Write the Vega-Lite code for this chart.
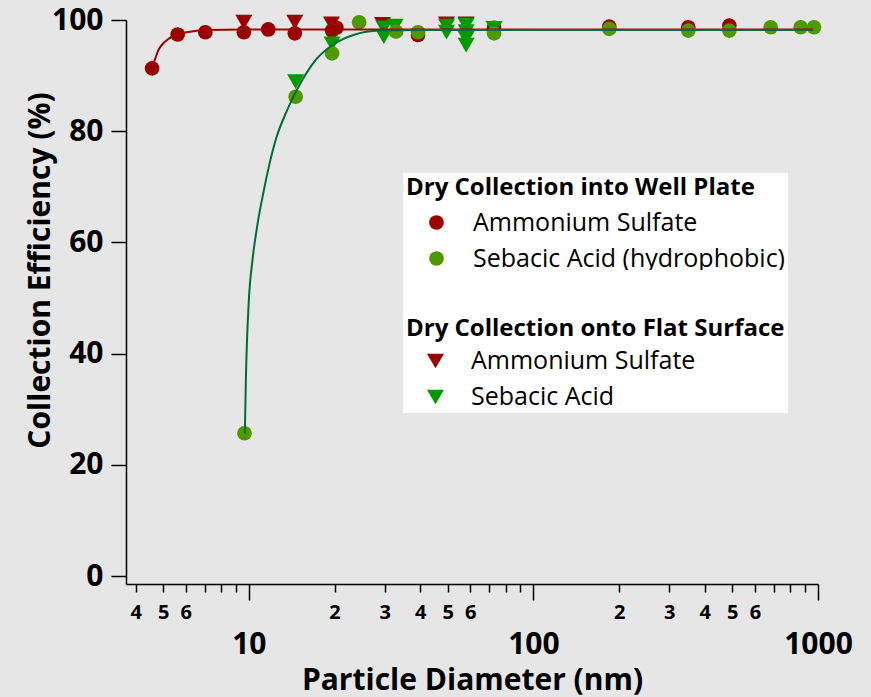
{
  "$schema": "https://vega.github.io/schema/vega-lite/v6.json",
  "width": 692,
  "height": 564,
  "autosize": {"type": "none"},
  "padding": {"left": 126, "top": 20, "right": 53, "bottom": 113},
  "background": "#e6e6e6",
  "config": {
    "view": {"stroke": null},
    "font": "Open Sans",
    "axis": {"grid": false, "domainColor": "#000000", "tickColor": "#000000", "labelColor": "#000000", "titleColor": "#000000", "domainWidth": 1.5, "tickWidth": 1.5, "labelFont": "Open Sans", "titleFont": "Open Sans"}
  },
  "datasets": {
    "pts": [
      {"m": "W", "c": "Ammonium Sulfate", "d": 4.57, "ce": 91.3},
      {"m": "W", "c": "Ammonium Sulfate", "d": 5.62, "ce": 97.4},
      {"m": "W", "c": "Ammonium Sulfate", "d": 7.03, "ce": 97.8},
      {"m": "W", "c": "Ammonium Sulfate", "d": 9.6, "ce": 97.8},
      {"m": "W", "c": "Ammonium Sulfate", "d": 11.7, "ce": 98.3},
      {"m": "W", "c": "Ammonium Sulfate", "d": 14.5, "ce": 97.6},
      {"m": "W", "c": "Ammonium Sulfate", "d": 19.6, "ce": 98.1},
      {"m": "W", "c": "Ammonium Sulfate", "d": 20.3, "ce": 98.6},
      {"m": "W", "c": "Ammonium Sulfate", "d": 39.3, "ce": 97.3},
      {"m": "W", "c": "Ammonium Sulfate", "d": 72.7, "ce": 98.6},
      {"m": "W", "c": "Ammonium Sulfate", "d": 184.7, "ce": 98.8},
      {"m": "W", "c": "Ammonium Sulfate", "d": 350, "ce": 98.7},
      {"m": "W", "c": "Ammonium Sulfate", "d": 488, "ce": 99.0},
      {"m": "F", "c": "Ammonium Sulfate", "d": 9.6, "ce": 99.6},
      {"m": "F", "c": "Ammonium Sulfate", "d": 14.5, "ce": 99.6},
      {"m": "F", "c": "Ammonium Sulfate", "d": 19.5, "ce": 99.3},
      {"m": "F", "c": "Ammonium Sulfate", "d": 29.5, "ce": 99.2},
      {"m": "F", "c": "Ammonium Sulfate", "d": 49.5, "ce": 99.3},
      {"m": "F", "c": "Ammonium Sulfate", "d": 58, "ce": 99.3},
      {"m": "F", "c": "Sebacic Acid", "d": 14.6, "ce": 88.9},
      {"m": "F", "c": "Sebacic Acid", "d": 19.6, "ce": 95.7},
      {"m": "F", "c": "Sebacic Acid", "d": 29.8, "ce": 98.6},
      {"m": "F", "c": "Sebacic Acid", "d": 29.8, "ce": 97.0},
      {"m": "F", "c": "Sebacic Acid", "d": 32.6, "ce": 98.9},
      {"m": "F", "c": "Sebacic Acid", "d": 49.5, "ce": 98.9},
      {"m": "F", "c": "Sebacic Acid", "d": 49.5, "ce": 97.8},
      {"m": "F", "c": "Sebacic Acid", "d": 58, "ce": 99.1},
      {"m": "F", "c": "Sebacic Acid", "d": 58, "ce": 97.9},
      {"m": "F", "c": "Sebacic Acid", "d": 58, "ce": 96.7},
      {"m": "F", "c": "Sebacic Acid", "d": 58, "ce": 95.5},
      {"m": "F", "c": "Sebacic Acid", "d": 72.7, "ce": 98.5},
      {"m": "W", "c": "Sebacic Acid (hydrophobic)", "d": 9.65, "ce": 25.7},
      {"m": "W", "c": "Sebacic Acid (hydrophobic)", "d": 14.6, "ce": 86.2},
      {"m": "W", "c": "Sebacic Acid (hydrophobic)", "d": 19.6, "ce": 94.0},
      {"m": "W", "c": "Sebacic Acid (hydrophobic)", "d": 24.4, "ce": 99.6},
      {"m": "W", "c": "Sebacic Acid (hydrophobic)", "d": 32.9, "ce": 97.9},
      {"m": "W", "c": "Sebacic Acid (hydrophobic)", "d": 39.3, "ce": 97.8},
      {"m": "W", "c": "Sebacic Acid (hydrophobic)", "d": 72.7, "ce": 97.6},
      {"m": "W", "c": "Sebacic Acid (hydrophobic)", "d": 184.7, "ce": 98.4},
      {"m": "W", "c": "Sebacic Acid (hydrophobic)", "d": 350, "ce": 98.1},
      {"m": "W", "c": "Sebacic Acid (hydrophobic)", "d": 488, "ce": 98.1},
      {"m": "W", "c": "Sebacic Acid (hydrophobic)", "d": 682, "ce": 98.7},
      {"m": "W", "c": "Sebacic Acid (hydrophobic)", "d": 869, "ce": 98.7},
      {"m": "W", "c": "Sebacic Acid (hydrophobic)", "d": 968, "ce": 98.7}
    ],
    "curves": [
      {"s": "AS", "d": 4.57, "ce": 91.3},
      {"s": "AS", "d": 4.67, "ce": 92.8},
      {"s": "AS", "d": 4.8, "ce": 94.5},
      {"s": "AS", "d": 5.0, "ce": 95.8},
      {"s": "AS", "d": 5.25, "ce": 96.7},
      {"s": "AS", "d": 5.49, "ce": 97.3},
      {"s": "AS", "d": 6.04, "ce": 97.8},
      {"s": "AS", "d": 7.1, "ce": 98.2},
      {"s": "AS", "d": 9.55, "ce": 98.3},
      {"s": "AS", "d": 960, "ce": 98.3},
      {"s": "SA", "d": 9.68, "ce": 25.7},
      {"s": "SA", "d": 9.76, "ce": 35.3},
      {"s": "SA", "d": 10.0, "ce": 49.7},
      {"s": "SA", "d": 10.3, "ce": 56.9},
      {"s": "SA", "d": 10.7, "ce": 63.0},
      {"s": "SA", "d": 11.23, "ce": 68.8},
      {"s": "SA", "d": 11.8, "ce": 74.0},
      {"s": "SA", "d": 12.52, "ce": 79.0},
      {"s": "SA", "d": 13.5, "ce": 83.3},
      {"s": "SA", "d": 14.4, "ce": 86.4},
      {"s": "SA", "d": 15.95, "ce": 90.5},
      {"s": "SA", "d": 17.3, "ce": 93.0},
      {"s": "SA", "d": 19.8, "ce": 95.6},
      {"s": "SA", "d": 23.3, "ce": 97.3},
      {"s": "SA", "d": 28.9, "ce": 98.1},
      {"s": "SA", "d": 40, "ce": 98.2},
      {"s": "SA", "d": 960, "ce": 98.2}
    ]
  },
  "encoding": {
    "x": {
      "field": "d", "type": "quantitative",
      "scale": {"type": "log", "domain": [3.7, 1000], "nice": false},
      "axis": {
        "title": "Particle Diameter (nm)",
        "values": [4, 5, 6, 7, 8, 9, 10, 20, 30, 40, 50, 60, 70, 80, 90, 100, 200, 300, 400, 500, 600, 700, 800, 900, 1000],
        "format": "d",
        "labelExpr": "indexof([10,100,1000], datum.value) >= 0 ? datum.label : (indexof([4,5,6,20,30,40,50,60,200,300,400,500,600], datum.value) >= 0 ? slice(datum.label,0,1) : '')",
        "labelFontSize": {"condition": {"test": "indexof([10,100,1000], datum.value) >= 0", "value": 30}, "value": 20},
        "labelFontWeight": "bold",
        "tickSize": {"condition": {"test": "indexof([10,100,1000], datum.value) >= 0", "value": 16}, "value": 8},
        "labelPadding": {"condition": {"test": "indexof([10,100,1000], datum.value) >= 0", "value": 29}, "value": 10},
        "labelOverlap": false,
        "labelFlush": false,
        "titleFontSize": 30,
        "titleFontWeight": "bold",
        "titleY": 96,
        "titleBaseline": "middle"
      }
    },
    "y": {
      "field": "ce", "type": "quantitative",
      "scale": {"domain": [-1.4, 100], "nice": false, "zero": false},
      "axis": {
        "title": "Collection Efficiency (%)",
        "values": [0, 20, 40, 60, 80, 100],
        "labelFontSize": 30,
        "labelFontWeight": "bold",
        "tickSize": 15,
        "labelPadding": 8,
        "titleFontSize": 30,
        "titleFontWeight": "bold",
        "titleX": -86,
        "titleY": 250,
        "titleBaseline": "middle"
      }
    }
  },
  "layer": [
    {
      "data": {"name": "pts"},
      "transform": [{"filter": "datum.m == 'W' && datum.c == 'Ammonium Sulfate'"}],
      "mark": {"type": "point", "shape": "circle", "filled": true, "size": 215, "opacity": 1},
      "encoding": {
        "color": {
          "field": "c", "type": "nominal",
          "scale": {"domain": ["Ammonium Sulfate", "Sebacic Acid (hydrophobic)"], "range": ["#990000", "#4d9900"]},
          "legend": {
            "title": "Dry Collection into Well Plate",
            "orient": "none", "legendX": 277, "legendY": 153,
            "fillColor": "#ffffff", "padding": 3,
            "titleFont": "Open Sans", "titleFontSize": 24, "titleFontWeight": "bold", "titleColor": "#000000", "titlePadding": 10, "titleLimit": 600,
            "labelFont": "Open Sans", "labelFontSize": 25, "labelColor": "#000000", "labelLimit": 600,
            "symbolType": "circle", "symbolSize": 215, "symbolOffset": 18, "labelOffset": 24, "rowPadding": 10, "symbolStrokeWidth": 0, "symbolOpacity": 1
          }
        }
      }
    },
    {
      "data": {"name": "pts"},
      "transform": [{"filter": "datum.m == 'F'"}],
      "mark": {"type": "point", "shape": "triangle-down", "filled": true, "size": 290, "opacity": 1},
      "encoding": {
        "color": {
          "field": "c", "type": "nominal",
          "scale": {"domain": ["Ammonium Sulfate", "Sebacic Acid"], "range": ["#990000", "#009a00"]},
          "legend": {
            "title": ["", "Dry Collection onto Flat Surface\u00a0"],
            "orient": "none", "legendX": 277, "legendY": 250,
            "fillColor": "#ffffff", "padding": 3,
            "titleFont": "Open Sans", "titleFontSize": 24, "titleFontWeight": "bold", "titleColor": "#000000", "titlePadding": 8, "titleLineHeight": 43.5, "titleLimit": 600,
            "labelFont": "Open Sans", "labelFontSize": 25, "labelColor": "#000000", "labelLimit": 600,
            "symbolType": "triangle-down", "symbolSize": 290, "symbolOffset": 17, "labelOffset": 23, "rowPadding": 10, "symbolStrokeWidth": 0, "symbolOpacity": 1
          }
        }
      }
    },
    {
      "data": {"name": "pts"},
      "transform": [{"filter": "datum.m == 'W' && datum.c != 'Ammonium Sulfate'"}],
      "mark": {"type": "point", "shape": "circle", "filled": true, "size": 215, "opacity": 1, "color": "#4d9900"},
      "encoding": {}
    },
    {
      "data": {"name": "curves"},
      "transform": [{"filter": "datum.s == 'AS'"}],
      "mark": {"type": "line", "color": "#9e0000", "strokeWidth": 2, "interpolate": "monotone"},
      "encoding": {}
    },
    {
      "data": {"name": "curves"},
      "transform": [{"filter": "datum.s == 'SA'"}],
      "mark": {"type": "line", "color": "#006b3c", "strokeWidth": 2, "interpolate": "monotone"},
      "encoding": {}
    }
  ],
  "resolve": {"scale": {"color": "independent"}}
}
